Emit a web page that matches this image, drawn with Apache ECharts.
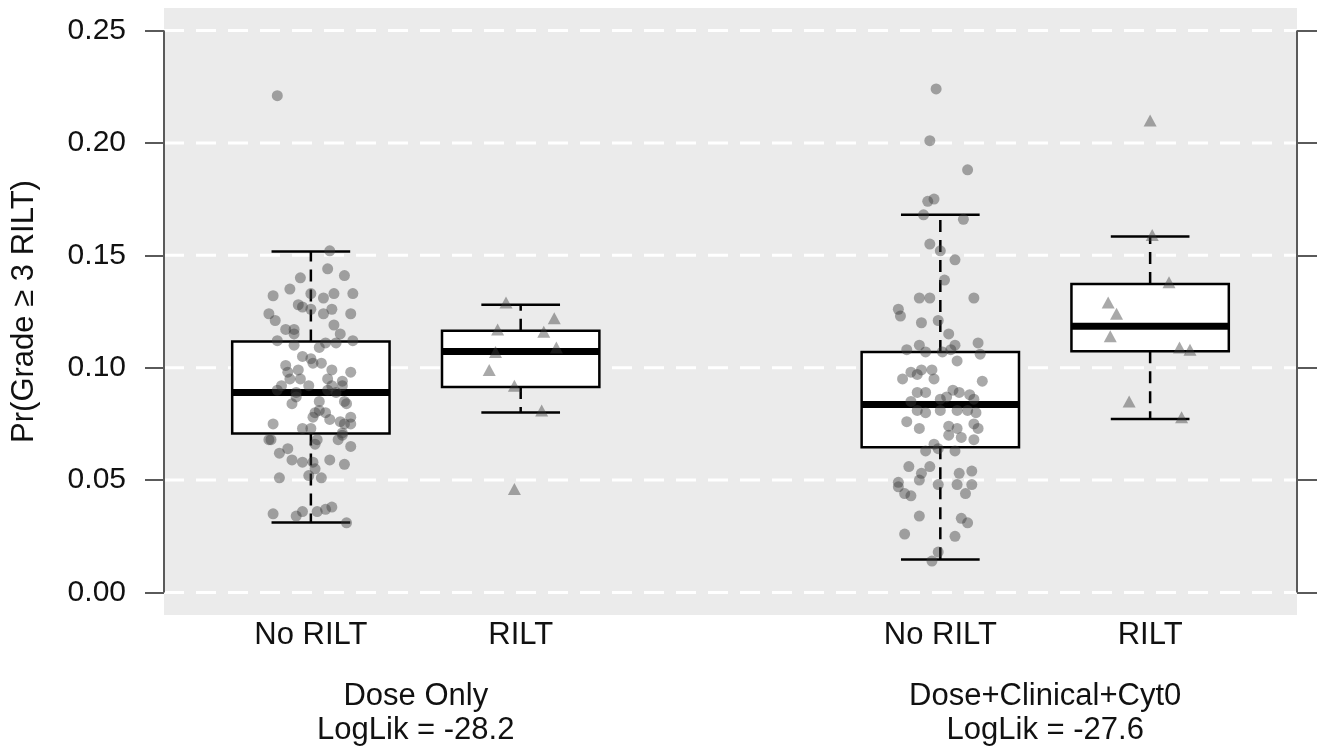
<!DOCTYPE html>
<html>
<head>
<meta charset="utf-8">
<script src="https://cdn.jsdelivr.net/npm/echarts@6/dist/echarts.min.js"></script>
<style>
  html, body { margin: 0; padding: 0; background: #ffffff; }
  #chart { width: 1323px; height: 752px; }
</style>
</head>
<body>
<div id="chart"></div>
<script>
// ---------------- data ----------------
const yTicks = [0, 0.05, 0.10, 0.15, 0.20, 0.25];
const outcomeLabels = ['No RILT', 'RILT', 'No RILT', 'RILT'];
const boxPositions = [1, 2, 4, 5];
const groupCenters = [1.5, 4.5];
const groupNames = ['Dose Only\nLogLik = -28.2', 'Dose+Clinical+Cyt0\nLogLik = -27.6'];

// [lower whisker, Q1, median, Q3, upper whisker]
const boxStats = [
  [0.0312, 0.0707, 0.0890, 0.1117, 0.1517],
  [0.0801, 0.0914, 0.1072, 0.1164, 0.1280],
  [0.0147, 0.0646, 0.0836, 0.1070, 0.1680],
  [0.0772, 0.1073, 0.1184, 0.1372, 0.1584]
];

// [horizontal jitter (category units), probability]
const doseNoRilt = [
  [-0.16,0.221],[0.09,0.152],[0.08,0.144],[-0.05,0.140],[0.16,0.141],[-0.10,0.135],[0.00,0.133],[0.11,0.133],
  [0.20,0.133],[-0.18,0.132],[0.06,0.131],[-0.06,0.128],[-0.04,0.127],[0.00,0.126],[0.10,0.126],[-0.20,0.124],
  [0.06,0.124],[0.19,0.124],[-0.17,0.121],[0.11,0.119],[-0.12,0.117],[-0.08,0.117],[0.14,0.115],[-0.08,0.115],
  [-0.16,0.112],[0.20,0.112],[0.07,0.111],[0.12,0.111],[-0.08,0.110],[0.04,0.109],[-0.04,0.105],[0.00,0.104],
  [0.01,0.102],[0.05,0.102],[-0.12,0.101],[-0.11,0.098],[-0.06,0.099],[0.10,0.099],[0.19,0.098],[-0.10,0.095],
  [-0.05,0.095],[0.08,0.095],[0.15,0.094],[-0.14,0.092],[-0.01,0.092],[0.10,0.092],[0.15,0.092],[-0.16,0.090],
  [-0.07,0.089],[0.08,0.090],[0.12,0.089],[-0.07,0.087],[0.04,0.085],[0.16,0.085],[-0.09,0.084],[0.17,0.084],
  [0.04,0.081],[0.02,0.080],[0.07,0.080],[0.01,0.078],[0.09,0.077],[0.19,0.078],[0.14,0.076],[0.16,0.075],
  [0.19,0.075],[-0.18,0.075],[-0.04,0.073],[0.00,0.073],[0.15,0.071],[0.15,0.070],[-0.20,0.068],[-0.19,0.068],
  [0.03,0.068],[0.13,0.068],[0.02,0.066],[-0.11,0.064],[0.19,0.065],[-0.15,0.062],[-0.09,0.059],[-0.04,0.058],
  [0.01,0.058],[0.09,0.059],[0.16,0.057],[0.02,0.055],[-0.01,0.052],[0.05,0.051],[-0.15,0.051],[-0.18,0.035],
  [-0.07,0.034],[-0.04,0.036],[0.03,0.036],[0.07,0.037],[0.10,0.038],[0.17,0.031]
];
const doseRilt = [
  [-0.07,0.129],[0.16,0.122],[-0.11,0.117],[0.11,0.116],[0.17,0.109],
  [-0.12,0.107],[-0.15,0.099],[-0.03,0.092],[0.10,0.081],[-0.03,0.046]
];
const clinNoRilt = [
  [-0.02,0.224],[-0.05,0.201],[0.13,0.188],[-0.03,0.175],[-0.06,0.174],[-0.08,0.168],[0.11,0.166],[-0.05,0.155],
  [0.00,0.152],[0.07,0.148],[0.02,0.139],[-0.10,0.131],[-0.05,0.131],[0.16,0.131],[-0.20,0.126],[-0.19,0.123],
  [-0.09,0.120],[-0.01,0.121],[0.04,0.115],[0.07,0.110],[-0.10,0.110],[-0.16,0.108],[0.18,0.111],[-0.07,0.107],
  [0.01,0.107],[0.05,0.108],[0.19,0.106],[0.08,0.103],[-0.14,0.098],[-0.09,0.099],[-0.04,0.099],[-0.18,0.095],
  [-0.11,0.097],[-0.03,0.095],[0.20,0.094],[-0.11,0.089],[-0.07,0.089],[0.06,0.090],[0.09,0.089],[0.14,0.088],
  [-0.14,0.085],[0.00,0.086],[0.03,0.087],[0.16,0.086],[-0.11,0.081],[-0.07,0.080],[0.00,0.081],[0.08,0.081],
  [0.13,0.081],[0.17,0.080],[-0.16,0.076],[-0.10,0.073],[0.04,0.074],[0.08,0.073],[0.16,0.075],[0.18,0.073],
  [0.04,0.070],[0.10,0.069],[0.16,0.068],[-0.03,0.066],[-0.07,0.063],[-0.01,0.064],[0.07,0.063],[-0.15,0.056],
  [-0.05,0.056],[-0.09,0.053],[0.09,0.053],[0.15,0.054],[-0.10,0.050],[-0.01,0.048],[0.08,0.048],[0.15,0.048],
  [-0.20,0.049],[-0.20,0.047],[-0.17,0.044],[-0.14,0.043],[0.12,0.044],[-0.10,0.034],[0.10,0.033],[0.13,0.031],
  [-0.17,0.026],[0.07,0.025],[-0.01,0.018],[-0.04,0.014]
];
const clinRilt = [
  [0.00,0.210],[0.01,0.159],[0.09,0.138],[-0.20,0.129],[-0.16,0.124],
  [-0.19,0.114],[0.14,0.109],[0.19,0.108],[-0.10,0.085],[0.15,0.078]
];

// ---------------- chart ----------------
const X_MIN = 0.3, X_MAX = 5.7;
const Y_MIN = -0.01, Y_MAX = 0.26;
const BOX_WIDTH = 0.75;
const pointColor = 'rgba(60,60,60,0.55)';
const axisColor = '#5a5a5a';
const textColor = '#111111';
const FONT = 'Liberation Sans, Arial, sans-serif';

const place = (pos, pts) => pts.map(p => [pos + p[0], p[1]]);

const chart = echarts.init(document.getElementById('chart'), null, { renderer: 'canvas' });

const option = {
  animation: false,
  backgroundColor: '#ffffff',
  grid: {
    left: 164, right: 26, top: 8, bottom: 137,
    show: true, backgroundColor: '#ebebeb', borderWidth: 0
  },
  xAxis: [
    {
      type: 'value', min: X_MIN, max: X_MAX, position: 'bottom',
      axisLine: { show: false }, axisTick: { show: false }, splitLine: { show: false },
      axisLabel: {
        customValues: boxPositions,
        formatter: v => outcomeLabels[boxPositions.indexOf(v)],
        fontSize: 31, fontFamily: FONT, color: textColor, margin: 5
      }
    },
    {
      type: 'value', min: X_MIN, max: X_MAX, position: 'bottom',
      axisLine: { show: false }, axisTick: { show: false }, splitLine: { show: false },
      axisLabel: {
        customValues: groupCenters,
        formatter: v => groupNames[groupCenters.indexOf(v)],
        fontSize: 31, fontFamily: FONT, color: textColor, margin: 64, lineHeight: 34
      }
    }
  ],
  yAxis: [
    {
      type: 'value', min: Y_MIN, max: Y_MAX, position: 'left',
      name: 'Pr(Grade \u2265 3 RILT)', nameLocation: 'middle', nameGap: 124,
      nameTextStyle: { fontSize: 31, fontFamily: FONT, color: textColor },
      axisLine: { show: false }, splitLine: { show: false },
      axisTick: { show: true, customValues: yTicks, length: 19, lineStyle: { color: axisColor, width: 2 } },
      axisLabel: {
        customValues: yTicks, formatter: v => v.toFixed(2),
        fontSize: 30, fontFamily: FONT, color: textColor, margin: 38
      }
    },
    {
      type: 'value', min: Y_MIN, max: Y_MAX, position: 'right',
      axisLine: { show: false }, splitLine: { show: false },
      axisTick: { show: true, customValues: yTicks, length: 20, lineStyle: { color: axisColor, width: 2 } },
      axisLabel: { show: false }
    }
  ],
  series: [
    {
      // dashed white reference lines at tick values
      type: 'custom', z: 1, silent: true,
      data: yTicks.map(v => [1, v]),
      renderItem: (params, api) => {
        const cs = params.coordSys;
        const y = api.coord([1, api.value(1)])[1];
        return {
          type: 'line',
          shape: { x1: cs.x, y1: y, x2: cs.x + cs.width, y2: y },
          style: { stroke: '#ffffff', lineWidth: 3, lineDash: [20, 12] }
        };
      }
    },
    {
      // axis lines spanning the tick range (left and right)
      type: 'custom', z: 1, silent: true,
      data: [[1, yTicks[0], yTicks[yTicks.length - 1]]],
      renderItem: (params, api) => {
        const cs = params.coordSys;
        const y0 = api.coord([1, api.value(1)])[1];
        const y1 = api.coord([1, api.value(2)])[1];
        return {
          type: 'group',
          children: [
            { type: 'line', shape: { x1: cs.x, y1: y0, x2: cs.x, y2: y1 }, style: { stroke: axisColor, lineWidth: 2 } },
            { type: 'line', shape: { x1: cs.x + cs.width, y1: y0, x2: cs.x + cs.width, y2: y1 }, style: { stroke: axisColor, lineWidth: 2 } }
          ]
        };
      }
    },
    {
      // box plots
      type: 'custom', z: 2, silent: true,
      data: boxStats.map((s, i) => [boxPositions[i]].concat(s)),
      renderItem: (params, api) => {
        const x = api.value(0);
        const pLo = api.coord([x, api.value(1)]);
        const pQ1 = api.coord([x, api.value(2)]);
        const pMed = api.coord([x, api.value(3)]);
        const pQ3 = api.coord([x, api.value(4)]);
        const pHi = api.coord([x, api.value(5)]);
        const half = api.size([BOX_WIDTH, 0])[0] / 2;
        const capHalf = half / 2;
        const cx = pMed[0];
        const black = '#000000';
        return {
          type: 'group',
          children: [
            { type: 'line', shape: { x1: cx, y1: pQ3[1], x2: cx, y2: pHi[1] }, style: { stroke: black, lineWidth: 2.5, lineDash: [12, 8] } },
            { type: 'line', shape: { x1: cx, y1: pQ1[1], x2: cx, y2: pLo[1] }, style: { stroke: black, lineWidth: 2.5, lineDash: [12, 8] } },
            { type: 'line', shape: { x1: cx - capHalf, y1: pHi[1], x2: cx + capHalf, y2: pHi[1] }, style: { stroke: black, lineWidth: 2.5 } },
            { type: 'line', shape: { x1: cx - capHalf, y1: pLo[1], x2: cx + capHalf, y2: pLo[1] }, style: { stroke: black, lineWidth: 2.5 } },
            { type: 'rect', shape: { x: cx - half, y: pQ3[1], width: 2 * half, height: pQ1[1] - pQ3[1] }, style: { fill: '#ffffff', stroke: black, lineWidth: 2.5 } },
            { type: 'line', shape: { x1: cx - half, y1: pMed[1], x2: cx + half, y2: pMed[1] }, style: { stroke: black, lineWidth: 7 } }
          ]
        };
      }
    },
    {
      type: 'scatter', z: 3, symbol: 'circle', symbolSize: 11, silent: true,
      itemStyle: { color: pointColor },
      data: place(boxPositions[0], doseNoRilt)
    },
    {
      type: 'scatter', z: 3, symbol: 'triangle', symbolSize: [13, 12], silent: true,
      itemStyle: { color: pointColor },
      data: place(boxPositions[1], doseRilt)
    },
    {
      type: 'scatter', z: 3, symbol: 'circle', symbolSize: 11, silent: true,
      itemStyle: { color: pointColor },
      data: place(boxPositions[2], clinNoRilt)
    },
    {
      type: 'scatter', z: 3, symbol: 'triangle', symbolSize: [13, 12], silent: true,
      itemStyle: { color: pointColor },
      data: place(boxPositions[3], clinRilt)
    }
  ]
};

chart.setOption(option);
</script>
</body>
</html>
